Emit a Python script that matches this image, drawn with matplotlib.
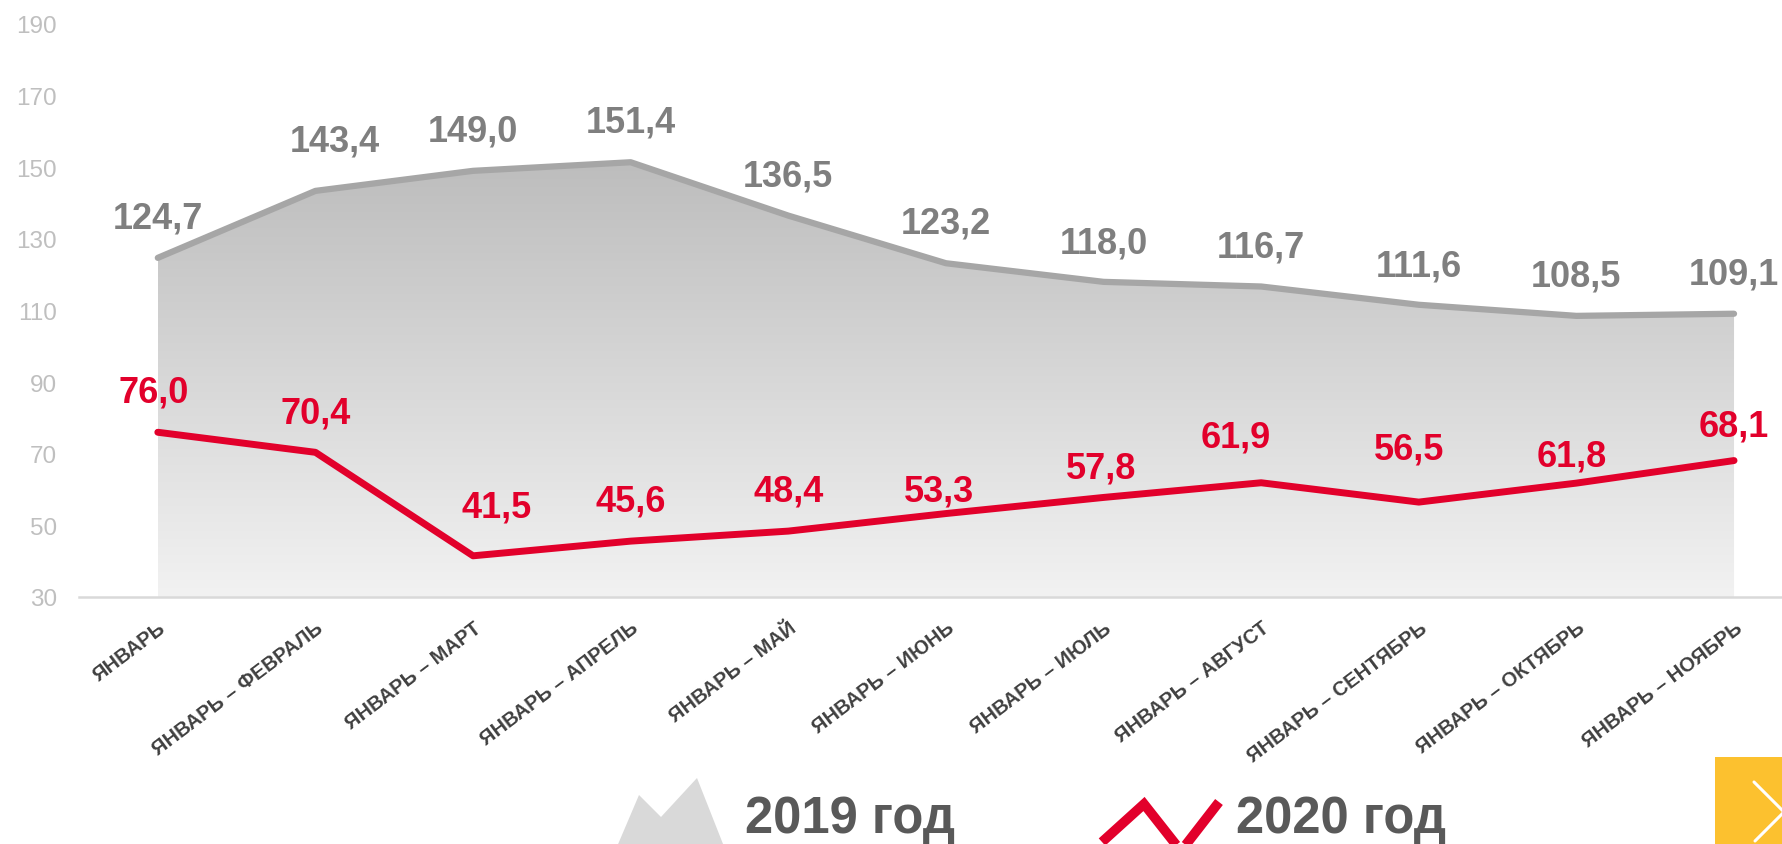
import matplotlib
matplotlib.use('Agg')
import matplotlib.pyplot as plt
import numpy as np
from matplotlib.colors import LinearSegmentedColormap
from matplotlib.patches import Polygon, Rectangle
from matplotlib.lines import Line2D
from matplotlib import font_manager

# данные
periods = ['ЯНВАРЬ', 'ЯНВАРЬ – ФЕВРАЛЬ', 'ЯНВАРЬ – МАРТ', 'ЯНВАРЬ – АПРЕЛЬ',
           'ЯНВАРЬ – МАЙ', 'ЯНВАРЬ – ИЮНЬ', 'ЯНВАРЬ – ИЮЛЬ', 'ЯНВАРЬ – АВГУСТ',
           'ЯНВАРЬ – СЕНТЯБРЬ', 'ЯНВАРЬ – ОКТЯБРЬ', 'ЯНВАРЬ – НОЯБРЬ']
y2019 = [124.7, 143.4, 149.0, 151.4, 136.5, 123.2, 118.0, 116.7, 111.6, 108.5, 109.1]
y2020 = [76.0, 70.4, 41.5, 45.6, 48.4, 53.3, 57.8, 61.9, 56.5, 61.8, 68.1]
yticks = [30, 50, 70, 90, 110, 130, 150, 170, 190]

# сдвиги подписей (пиксели)
dx2019 = [0, 19, 0, 0, 0, 0, 0, 0, 0, 0, 0]
dy2019 = [40, 50, 40, 40, 40, 40, 39, 40, 39, 40, 40]
dx2020 = [-4, 0, 24, 0, 0, -7, -2, -25, -10, -5, 0]
dy2020 = [40, 39, 49, 40, 40, 23, 29, 46, 53, 27, 35]

RED = '#e2002b'
GRAY_LINE = '#a6a6a6'

W, H = 1783, 845
fig = plt.figure(figsize=(W / 100, H / 100), dpi=100)

installed = {f.name for f in font_manager.fontManager.ttflist}
base_font = 'Liberation Sans'
narrow = 'Liberation Sans Narrow' if 'Liberation Sans Narrow' in installed else 'Liberation Sans'
legend_size = 39 if narrow != base_font else 36.5
plt.rcParams['font.family'] = [base_font, 'DejaVu Sans']


def fx(px):
    return px / W


def fy(py):
    return 1 - py / H


ax = fig.add_axes([fx(79), fy(598), fx(W - 79), fy(25) - fy(598)])
x = np.arange(len(periods))
ax.set_xlim(-0.5, 10 + (W - 1734) / 157.7)
ax.set_ylim(30, 190)

# градиентная заливка под линией 2019
poly = ax.fill_between(x, 30, y2019, facecolor='none', edgecolor='none')
cmap = LinearSegmentedColormap.from_list('g', ['#f2f2f2', '#bdbdbd'])
grad = np.linspace(0, 1, 256).reshape(-1, 1)
im = ax.imshow(grad, cmap=cmap, origin='lower', aspect='auto',
               extent=[x[0], x[-1], 30, max(y2019)], zorder=1)
im.set_clip_path(poly.get_paths()[0], transform=ax.transData)

ax.plot(x, y2019, color=GRAY_LINE, lw=4.5, solid_capstyle='round',
        solid_joinstyle='round', zorder=3)
ax.plot(x, y2020, color=RED, lw=5, solid_capstyle='round',
        solid_joinstyle='round', zorder=4)

for i in range(len(x)):
    ax.annotate(f'{y2019[i]:.1f}'.replace('.', ','), (x[i], y2019[i]),
                xytext=(dx2019[i], dy2019[i]), textcoords='offset pixels',
                ha='center', va='center', fontsize=26, fontweight='bold',
                color='#7f7f7f', zorder=5, annotation_clip=False)
    ax.annotate(f'{y2020[i]:.1f}'.replace('.', ','), (x[i], y2020[i]),
                xytext=(dx2020[i], dy2020[i]), textcoords='offset pixels',
                ha='center', va='center', fontsize=26, fontweight='bold',
                color=RED, zorder=5, annotation_clip=False)

ax.set_yticks(yticks)
ax.set_yticklabels([str(t) for t in yticks])
ax.set_xticks(x)
ax.set_xticklabels(periods, rotation=37, ha='right', va='top',
                   rotation_mode='anchor', fontsize=14.5, fontweight='bold',
                   color='#404040')
ax.tick_params(axis='y', length=0, pad=16, labelsize=17.5, labelcolor='#bfbfbf')
ax.tick_params(axis='x', length=0, pad=15)
for s in ['top', 'right', 'left']:
    ax.spines[s].set_visible(False)
ax.spines['bottom'].set_color('#d9d9d9')
ax.spines['bottom'].set_linewidth(1.8)
ax.spines['bottom'].set_zorder(2)
ax.set_facecolor('none')

# легенда внизу
mountain = [(616, 850), (639, 796), (661, 818), (697, 779), (725, 850)]
fig.patches.append(Polygon([(fx(a), fy(b)) for a, b in mountain], closed=True,
                           transform=fig.transFigure, facecolor='#d9d9d9',
                           edgecolor='none'))
fig.text(fx(745), fy(833), '2019 год', fontsize=legend_size, fontweight='bold',
         family=[narrow, 'DejaVu Sans'], color='#595959', ha='left', va='baseline')

zig = [(1102, 843), (1144, 805), (1181, 852), (1219, 803)]
fig.lines.append(Line2D([fx(a) for a, b in zig], [fy(b) for a, b in zig],
                        transform=fig.transFigure, color=RED, lw=7,
                        solid_joinstyle='miter', solid_capstyle='butt'))
fig.text(fx(1236), fy(833), '2020 год', fontsize=legend_size, fontweight='bold',
         family=[narrow, 'DejaVu Sans'], color='#595959', ha='left', va='baseline')

# жёлтая кнопка
fig.patches.append(Rectangle((fx(1715), 0), fx(W - 1715), fy(758),
                             transform=fig.transFigure, facecolor='#fcc12f',
                             edgecolor='none'))
chev = [(1754, 783), (1784, 813), (1755, 842)]
fig.lines.append(Line2D([fx(a) for a, b in chev], [fy(b) for a, b in chev],
                        transform=fig.transFigure, color='white', lw=2.2,
                        solid_capstyle='round'))

fig.savefig('out.png', dpi=100)
